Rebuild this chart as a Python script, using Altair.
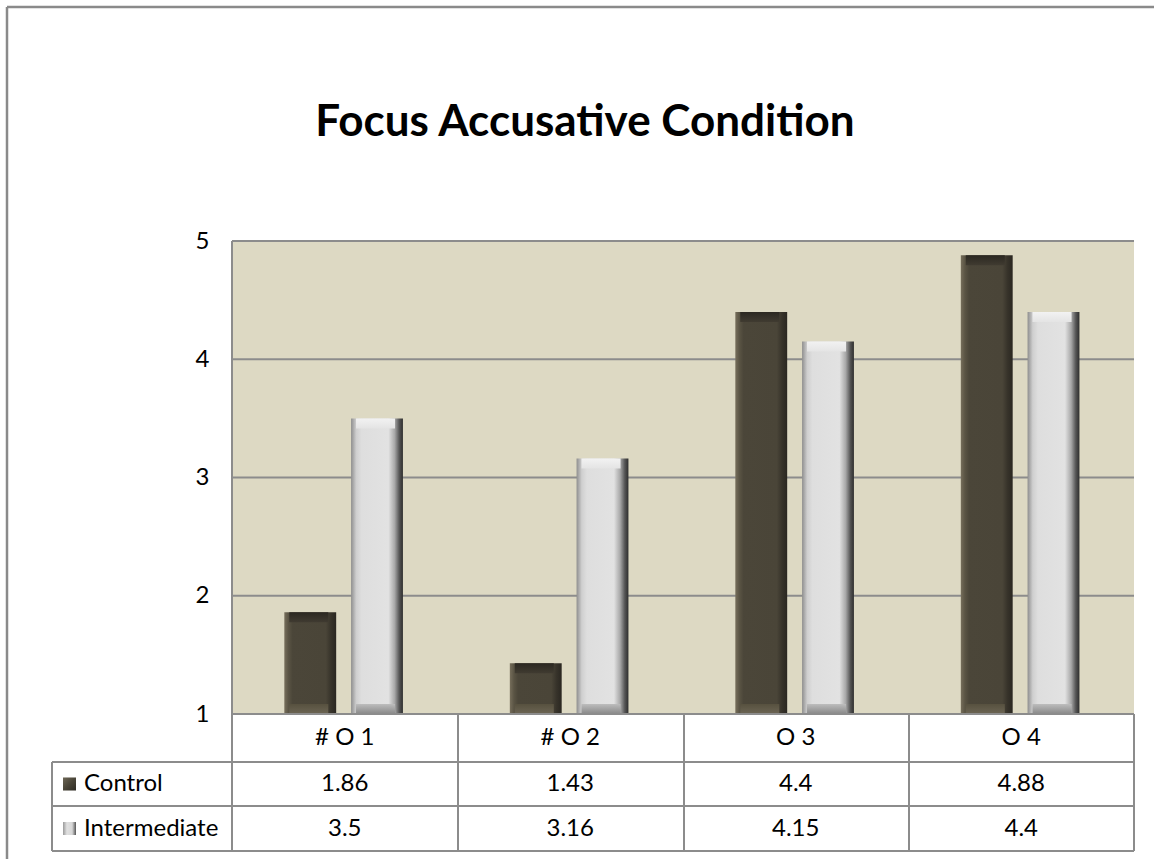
import altair as alt
import pandas as pd

# ---------------- data ----------------
categories = ["# O 1", "# O 2", "O 3", "O 4"]
series_names = ["Control", "Intermediate"]
control = [1.86, 1.43, 4.4, 4.88]
intermediate = [3.5, 3.16, 4.15, 4.4]
y_ticks = [1, 2, 3, 4, 5]
title_text = "Focus Accusative Condition"

# ---------------- layout (pixels of the reference) ----------------
PLOT_LEFT, PLOT_RIGHT, PLOT_TOP, PLOT_BOTTOM = 232, 1134, 241, 714
TABLE_LEFT, HEADER_BOTTOM, ROW1_BOTTOM, TABLE_BOTTOM = 52, 762, 806, 851
COL_LINES = [232, 458, 684, 909, 1134]
CAT_W = (PLOT_RIGHT - PLOT_LEFT) / 4.0
UNIT_H = (PLOT_BOTTOM - PLOT_TOP) / 4.0


def xu(px):
    return (px - PLOT_LEFT) / CAT_W


def yu(px):
    return 1 + (PLOT_BOTTOM - px) / UNIT_H


W = PLOT_RIGHT - TABLE_LEFT
H = TABLE_BOTTOM - PLOT_TOP
XDOM = [xu(TABLE_LEFT), 4]
YDOM = [yu(TABLE_BOTTOM), 5]

FONT = "Lato"
FS = 24
GRID = "#8c8c8c"

xs = alt.Scale(domain=XDOM, nice=False, zero=False)
ys = alt.Scale(domain=YDOM, nice=False, zero=False)
yaxis = alt.Axis(values=y_ticks, offset=-(PLOT_LEFT - TABLE_LEFT), labelPadding=23,
                 domain=False, ticks=False, grid=False, labelFontSize=FS,
                 labelFont=FONT, labelColor="black", title=None, labelBaseline="middle")


def X(f):
    return alt.X(f, type="quantitative", scale=xs, axis=None)


def Y(f):
    return alt.Y(f, type="quantitative", scale=ys, axis=yaxis)


# background of plot area
bg_df = pd.DataFrame({"x": [0], "x2": [4], "y": [1], "y2": [5]})
bg = alt.Chart(bg_df).mark_rect(color="#ddd9c3").encode(
    x=X("x"), x2="x2", y=Y("y"), y2="y2")

# gridlines + plot borders
grid_df = pd.DataFrame({"x": [0, 0, 0, 0, 0], "x2": [4, 4, 4, 4, 0],
                        "y": [2, 3, 4, 5, 1], "y2": [2, 3, 4, 5, 5]})
grid = alt.Chart(grid_df).mark_rule(color=GRID, strokeWidth=2).encode(
    x=X("x"), x2="x2", y=Y("y"), y2="y2")

# bars
OFFS = {"Control": (0.232, 0.462), "Intermediate": (0.528, 0.758)}
rows = []
for i, c in enumerate(categories):
    for s, vals in (("Control", control), ("Intermediate", intermediate)):
        a, b = OFFS[s]
        rows.append({"cat": c, "series": s, "value": vals[i], "base": 1,
                     "x": i + a, "x2": i + b,
                     "xi": i + a + 0.022, "xi2": i + b - 0.035,
                     "top": vals[i] - 10 / UNIT_H, "bot": 1 + 10 / UNIT_H})
bars = pd.DataFrame(rows)


def grad_h(stops):
    return {"gradient": "linear", "x1": 0, "y1": 0, "x2": 1, "y2": 0,
            "stops": [{"offset": o, "color": c} for o, c in stops]}


def grad_v(stops):
    return {"gradient": "linear", "x1": 0, "y1": 0, "x2": 0, "y2": 1,
            "stops": [{"offset": o, "color": c} for o, c in stops]}


ctrl_fill = grad_h([(0, "#766e5b"), (0.08, "#5a5444"), (0.16, "#4b4639"),
                    (0.8, "#4a4538"), (0.9, "#37332a"), (1, "#2a2721")])
int_fill = grad_h([(0, "#8e8e8e"), (0.1, "#cfcfcf"), (0.2, "#dedede"),
                   (0.72, "#e2e2e2"), (0.84, "#a8a8a8"), (0.93, "#555555"), (1, "#2e2e2e")])
ctrl_top = grad_v([(0, "#2b2821"), (1, "#403b31")])
ctrl_bot = grad_v([(0, "#57513f"), (1, "#6c6554")])
int_top = grad_v([(0, "#f2f2f2"), (1, "#e4e4e4")])
int_bot = grad_v([(0, "#bdbdbd"), (1, "#888888")])

bar_layers = []
for s, f, t, b in (("Control", ctrl_fill, ctrl_top, ctrl_bot),
                   ("Intermediate", int_fill, int_top, int_bot)):
    base = alt.Chart(bars).transform_filter(alt.datum.series == s)
    bar_layers.append(base.mark_rect(fill=f).encode(
        x=X("x"), x2="x2", y=Y("base"), y2="value"))
    bar_layers.append(base.mark_rect(fill=t).encode(
        x=X("xi"), x2="xi2", y=Y("top"), y2="value"))
    bar_layers.append(base.mark_rect(fill=b).encode(
        x=X("xi"), x2="xi2", y=Y("base"), y2="bot"))

# data table lines
xl = xu(TABLE_LEFT)
seg = [(0, 4, 1, 1),
       (xl, 4, yu(HEADER_BOTTOM), yu(HEADER_BOTTOM)),
       (xl, 4, yu(ROW1_BOTTOM), yu(ROW1_BOTTOM)),
       (xl, 4, yu(TABLE_BOTTOM), yu(TABLE_BOTTOM)),
       (xl, xl, yu(TABLE_BOTTOM), yu(HEADER_BOTTOM))]
for px in COL_LINES:
    seg.append((xu(px), xu(px), yu(TABLE_BOTTOM), 1))
tl_df = pd.DataFrame(seg, columns=["x", "x2", "y", "y2"])
table_lines = alt.Chart(tl_df).mark_rule(color=GRID, strokeWidth=2).encode(
    x=X("x"), x2="x2", y=Y("y"), y2="y2")

# table text
txt_rows = []
for i, c in enumerate(categories):
    txt_rows.append({"x": i + 0.5, "y": yu(738), "t": c})
    txt_rows.append({"x": i + 0.5, "y": yu(784), "t": f"{control[i]:g}"})
    txt_rows.append({"x": i + 0.5, "y": yu(828.5), "t": f"{intermediate[i]:g}"})
txt_df = pd.DataFrame(txt_rows)
table_text = alt.Chart(txt_df).mark_text(font=FONT, fontSize=FS, color="black",
                                         baseline="middle", align="center").encode(
    x=X("x"), y=Y("y"), text="t:N")

lab_df = pd.DataFrame({"x": [xu(84)] * 2, "y": [yu(784), yu(828.5)], "t": series_names})
row_labels = alt.Chart(lab_df).mark_text(font=FONT, fontSize=FS, color="black",
                                         baseline="middle", align="left").encode(
    x=X("x"), y=Y("y"), text="t:N")

key_df = pd.DataFrame({"x": [xu(69.5)] * 2, "y": [yu(784), yu(828.5)], "s": series_names})
key_ctrl = alt.Chart(key_df.iloc[[0]]).mark_square(
    size=170, opacity=1,
    fill={"gradient": "linear", "x1": 0, "y1": 0, "x2": 1, "y2": 1,
          "stops": [{"offset": 0, "color": "#6e6756"}, {"offset": 0.5, "color": "#4a4538"},
                    {"offset": 1, "color": "#2e2b24"}]}).encode(x=X("x"), y=Y("y"))
key_int = alt.Chart(key_df.iloc[[1]]).mark_square(
    size=170, opacity=1,
    fill={"gradient": "linear", "x1": 0, "y1": 0, "x2": 1, "y2": 0,
          "stops": [{"offset": 0, "color": "#9a9a9a"}, {"offset": 0.3, "color": "#e0e0e0"},
                    {"offset": 0.7, "color": "#d8d8d8"}, {"offset": 1, "color": "#555555"}]}).encode(
    x=X("x"), y=Y("y"))

# chart title (as a text mark placed above the plot area)
one = pd.DataFrame({"t": [title_text]})
title_mark = alt.Chart(one).mark_text(font=FONT, fontSize=44, fontWeight="bold",
                                      color="black", align="center",
                                      baseline="alphabetic").encode(
    x=alt.value(585 - TABLE_LEFT), y=alt.value(136 - PLOT_TOP), text="t:N")

# outer frame (chart-area border)
frame_top = alt.Chart(one).mark_rule(color="#8a8a8a", strokeWidth=2.5).encode(
    x=alt.value(7 - TABLE_LEFT), x2=alt.value(1154 - TABLE_LEFT), y=alt.value(7 - PLOT_TOP))
frame_left = alt.Chart(one).mark_rule(color="#8a8a8a", strokeWidth=2.5).encode(
    x=alt.value(7 - TABLE_LEFT), y=alt.value(7 - PLOT_TOP), y2=alt.value(859 - PLOT_TOP))

chart = alt.layer(bg, grid, *bar_layers, table_lines, table_text, row_labels,
                  key_ctrl, key_int, title_mark, frame_top, frame_left).properties(
    width=W, height=H,
    autosize=alt.AutoSizeParams(type="none"),
    padding={"left": TABLE_LEFT, "top": PLOT_TOP, "right": 1154 - PLOT_RIGHT,
             "bottom": 859 - TABLE_BOTTOM},
    background="white",
).configure_view(stroke=None)

chart.save("out.html", embed_options={"renderer": "svg", "actions": False})
